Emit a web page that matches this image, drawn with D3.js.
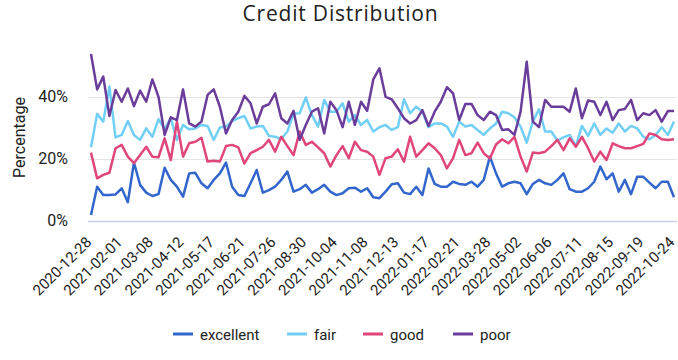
<!DOCTYPE html>
<html>
<head>
<meta charset="utf-8">
<script src="https://cdn.jsdelivr.net/npm/d3@7"></script>
<style>
  html, body { margin: 0; padding: 0; background: #fff; }
  svg { display: block; font-family: Roboto, "Noto Sans", sans-serif; }
</style>
</head>
<body>
<svg id="chart" width="678" height="360"></svg>
<script>
const dates = [
  "2020-12-28",
  "2021-01-04","2021-01-11","2021-01-18","2021-01-25",
  "2021-02-01","2021-02-08","2021-02-15","2021-02-22",
  "2021-03-01","2021-03-08","2021-03-15","2021-03-22","2021-03-29",
  "2021-04-05","2021-04-12","2021-04-19","2021-04-26",
  "2021-05-03","2021-05-10","2021-05-17","2021-05-24","2021-05-31",
  "2021-06-07","2021-06-14","2021-06-21","2021-06-28",
  "2021-07-05","2021-07-12","2021-07-19","2021-07-26",
  "2021-08-02","2021-08-09","2021-08-16","2021-08-23","2021-08-30",
  "2021-09-06","2021-09-13","2021-09-20","2021-09-27",
  "2021-10-04","2021-10-11","2021-10-18","2021-10-25",
  "2021-11-01","2021-11-08","2021-11-15","2021-11-22","2021-11-29",
  "2021-12-06","2021-12-13","2021-12-20","2021-12-27",
  "2022-01-03","2022-01-10","2022-01-17","2022-01-24","2022-01-31",
  "2022-02-07","2022-02-14","2022-02-21","2022-02-28",
  "2022-03-07","2022-03-14","2022-03-21","2022-03-28",
  "2022-04-04","2022-04-11","2022-04-18","2022-04-25",
  "2022-05-02","2022-05-09","2022-05-16","2022-05-23","2022-05-30",
  "2022-06-06","2022-06-13","2022-06-20","2022-06-27",
  "2022-07-04","2022-07-11","2022-07-18","2022-07-25",
  "2022-08-01","2022-08-08","2022-08-15","2022-08-22","2022-08-29",
  "2022-09-05","2022-09-12","2022-09-19","2022-09-26",
  "2022-10-03","2022-10-10","2022-10-17","2022-10-24"
];

const tickLabels = [
  "2020-12-28","2021-02-01","2021-03-08","2021-04-12","2021-05-17",
  "2021-06-21","2021-07-26","2021-08-30","2021-10-04","2021-11-08",
  "2021-12-13","2022-01-17","2022-02-21","2022-03-28","2022-05-02",
  "2022-06-06","2022-07-11","2022-08-15","2022-09-19","2022-10-24"
];

const yTicks = [0, 20, 40];

const excellent = [
  1.8, 10.9, 8.2, 8.2, 8.4, 10.4, 5.9, 18.7, 11.5, 9.0,
  7.9, 8.5, 17.0, 13.1, 10.9, 7.7, 15.2, 15.4, 12.0, 10.4,
  13.1, 15.2, 18.7, 10.9, 8.2, 7.9, 12.0, 16.3, 9.0, 9.8,
  10.9, 13.1, 15.8, 9.3, 10.1, 11.5, 9.0, 10.1, 11.5, 9.3,
  8.2, 8.8, 10.4, 10.6, 9.3, 10.4, 7.5, 7.2, 9.3, 11.7,
  12.0, 9.0, 8.5, 10.9, 8.2, 16.8, 11.8, 10.9, 10.9, 12.5,
  11.8, 11.5, 12.5, 10.9, 13.1, 20.6, 15.2, 10.9, 12.0, 12.5,
  12.0, 8.5, 11.8, 13.1, 12.0, 11.5, 13.1, 15.2, 10.1, 9.3,
  9.3, 10.4, 12.5, 17.4, 13.3, 15.2, 9.3, 13.1, 8.5, 14.1,
  14.1, 12.2, 10.4, 12.5, 12.5, 7.5
];

const fair = [
  23.6, 34.4, 31.9, 43.2, 26.8, 27.6, 32.1, 27.6, 26.0, 29.7,
  27.0, 32.7, 29.4, 33.0, 26.0, 30.8, 29.4, 29.7, 30.8, 30.5,
  26.0, 30.0, 30.3, 32.1, 33.0, 33.7, 29.7, 30.3, 30.5, 27.3,
  27.0, 26.3, 28.7, 34.4, 34.6, 39.7, 34.0, 30.3, 38.9, 35.1,
  35.1, 37.8, 31.9, 34.0, 30.8, 32.4, 28.7, 30.1, 30.8, 29.2,
  30.1, 39.1, 34.6, 36.7, 35.1, 30.1, 31.3, 31.3, 30.3, 27.0,
  31.9, 30.3, 30.8, 29.2, 27.6, 29.7, 31.3, 35.1, 34.6, 33.3,
  30.3, 25.1, 31.9, 35.9, 28.7, 28.7, 25.8, 26.8, 27.6, 24.0,
  30.5, 27.3, 31.3, 27.6, 29.7, 28.3, 31.3, 28.7, 30.5, 29.7,
  27.0, 26.2, 27.6, 30.1, 27.6, 31.9
];

const good = [
  21.9, 13.6, 14.7, 15.4, 23.3, 24.4, 20.6, 18.5, 21.1, 23.8,
  20.6, 20.4, 26.5, 19.5, 31.9, 20.6, 24.9, 25.4, 26.7, 19.0,
  19.3, 19.0, 24.0, 24.4, 23.6, 18.4, 21.7, 22.7, 23.8, 26.0,
  22.2, 27.0, 24.0, 21.1, 28.7, 24.4, 25.4, 23.6, 21.7, 17.4,
  21.1, 24.0, 20.1, 25.4, 22.7, 22.2, 20.6, 14.7, 20.1, 20.6,
  23.0, 19.0, 27.0, 20.6, 22.7, 24.9, 23.3, 21.1, 16.8, 20.1,
  26.0, 21.1, 21.7, 25.1, 21.7, 20.0, 24.5, 26.2, 24.9, 27.0,
  20.6, 15.8, 21.9, 21.7, 22.2, 24.0, 26.0, 22.7, 26.5, 23.8,
  27.0, 23.3, 19.0, 22.2, 19.5, 24.9, 24.0, 23.3, 23.3, 24.0,
  24.7, 28.1, 27.6, 26.2, 26.0, 26.2
];

const poor = [
  53.7, 42.3, 46.4, 33.7, 42.1, 38.3, 42.6, 36.9, 41.9, 38.3,
  45.5, 39.9, 27.6, 33.3, 32.4, 42.3, 31.3, 30.3, 31.9, 40.5,
  42.3, 36.7, 28.1, 32.4, 35.1, 40.2, 37.8, 31.3, 36.7, 37.5,
  41.0, 33.0, 31.3, 35.4, 26.0, 30.8, 35.1, 36.2, 28.1, 38.3,
  35.6, 30.1, 38.3, 30.8, 38.3, 35.4, 45.5, 49.1, 39.9, 39.1,
  36.2, 33.0, 31.3, 32.4, 35.6, 30.5, 35.1, 38.3, 43.0, 41.0,
  32.4, 37.6, 37.6, 34.0, 32.4, 35.1, 34.0, 29.2, 29.4, 27.6,
  35.1, 51.2, 31.9, 30.1, 38.9, 36.7, 36.7, 36.7, 35.1, 42.6,
  33.0, 38.7, 38.3, 34.0, 38.3, 32.4, 35.6, 36.0, 38.9, 32.4,
  34.6, 34.0, 35.6, 31.9, 35.3, 35.3
];

const seriesNames = ["excellent", "fair", "good", "poor"];
const seriesColors = ["#3366cc", "#71cff5", "#e0457b", "#6a3d9a"];
const seriesValues = [excellent, fair, good, poor];

const svg = d3.select("#chart");

const x = d3.scalePoint().domain(dates).range([91, 674]);
const y = d3.scaleLinear().domain([0, 60]).range([220.5, 34.5]);

// title
const title = svg.append("text")
  .attr("x", 340.5).attr("y", 21)
  .attr("text-anchor", "middle")
  .attr("font-family", "'Open Sans', Roboto, sans-serif")
  .attr("font-size", 21)
  .attr("fill", "#222")
  .text("Credit Distribution");
const tw = title.node().getComputedTextLength();
if (tw > 0) {
  const targetW = 195;
  title.attr("letter-spacing", ((targetW - tw) / 18).toFixed(2));
}

// y axis label
svg.append("text")
  .attr("transform", "translate(25,137.5) rotate(-90)")
  .attr("text-anchor", "middle")
  .attr("font-size", 16)
  .attr("fill", "#222")
  .text("Percentage");

// grid lines
svg.append("g")
  .selectAll("line")
  .data(yTicks)
  .join("line")
  .attr("x1", 88).attr("x2", 677)
  .attr("y1", d => Math.round(y(d)) + 0.5)
  .attr("y2", d => Math.round(y(d)) + 0.5)
  .attr("stroke", d => d === 0 ? "#c9cfe2" : "#e4e4e4")
  .attr("stroke-width", d => d === 0 ? 1.5 : 1);

// y axis
const yAxis = d3.axisLeft(y).tickValues(yTicks).tickFormat(d => d + "%").tickSize(0).tickPadding(0);
const gy = svg.append("g").attr("transform", "translate(68,0)").call(yAxis);
gy.select(".domain").remove();
gy.selectAll("text").attr("font-size", 16).attr("fill", "#222").attr("font-family", "Roboto, sans-serif");

// x axis
const xAxis = d3.axisBottom(x).tickValues(tickLabels).tickSize(0).tickPadding(0);
const gx = svg.append("g").attr("transform", "translate(0,221)").call(xAxis);
gx.select(".domain").remove();
gx.selectAll("text")
  .attr("font-size", 15)
  .attr("fill", "#222")
  .attr("font-family", "Roboto, sans-serif")
  .attr("text-anchor", "end")
  .attr("dy", null)
  .attr("y", 0)
  .attr("transform", "translate(1,22) rotate(-45)");

// lines
const line = d3.line()
  .x((d, i) => x(dates[i]))
  .y(d => y(d));

svg.append("g")
  .selectAll("path")
  .data(seriesValues)
  .join("path")
  .attr("d", d => line(d))
  .attr("fill", "none")
  .attr("stroke", (d, i) => seriesColors[i])
  .attr("stroke-width", 2.5)
  .attr("stroke-linejoin", "round");

// legend
const legendX = [173, 287, 363, 453];
const lg = svg.append("g");
seriesNames.forEach((name, i) => {
  lg.append("line")
    .attr("x1", legendX[i]).attr("x2", legendX[i] + 20)
    .attr("y1", 334).attr("y2", 334)
    .attr("stroke", seriesColors[i]).attr("stroke-width", 3);
  lg.append("text")
    .attr("x", legendX[i] + 27).attr("y", 339.5)
    .attr("font-size", 15).attr("fill", "#222")
    .text(name);
});
</script>
</body>
</html>
